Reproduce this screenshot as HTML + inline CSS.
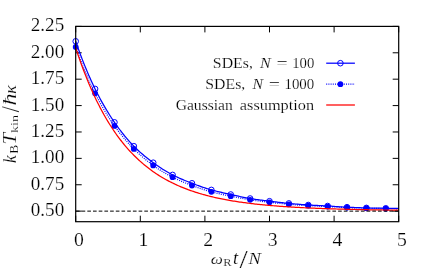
<!DOCTYPE html>
<html><head><meta charset="utf-8"><title>plot</title>
<style>
html,body{margin:0;padding:0;background:#fff;}
svg{display:block;will-change:transform;}
text{font-family:"Liberation Serif",serif;fill:#000;stroke:#fff;stroke-width:0.18px;}
.it{font-style:italic;}
</style></head><body>
<svg width="436" height="274" viewBox="0 0 436 274">
<rect x="0" y="0" width="436" height="274" fill="#fff"/>
<path d="M75.70,221.70v-6 M75.70,26.40v6 M140.30,221.70v-6 M140.30,26.40v6 M204.90,221.70v-6 M204.90,26.40v6 M269.50,221.70v-6 M269.50,26.40v6 M334.10,221.70v-6 M334.10,26.40v6 M398.70,221.70v-6 M398.70,26.40v6 M75.70,211.14h6 M398.70,211.14h-6 M75.70,184.75h6 M398.70,184.75h-6 M75.70,158.36h6 M398.70,158.36h-6 M75.70,131.97h6 M398.70,131.97h-6 M75.70,105.58h6 M398.70,105.58h-6 M75.70,79.18h6 M398.70,79.18h-6 M75.70,52.79h6 M398.70,52.79h-6 M75.70,26.40h6 M398.70,26.40h-6" stroke="#000" stroke-width="1" fill="none"/>
<path d="M75.70,41.30 L76.99,45.03 L78.28,48.68 L79.58,52.24 L80.87,55.71 L82.16,59.10 L83.45,62.41 L84.74,65.64 L86.04,68.80 L87.33,71.88 L88.62,74.89 L89.91,77.82 L91.20,80.69 L92.50,83.49 L93.79,86.23 L95.08,88.90 L96.37,91.51 L97.66,94.05 L98.96,96.54 L100.25,98.97 L101.54,101.34 L102.83,103.65 L104.12,105.92 L105.42,108.13 L106.71,110.29 L108.00,112.41 L109.29,114.47 L110.58,116.49 L111.88,118.47 L113.17,120.41 L114.46,122.30 L115.75,124.15 L117.04,125.97 L118.34,127.76 L119.63,129.50 L120.92,131.21 L122.21,132.88 L123.50,134.51 L124.80,136.10 L126.09,137.66 L127.38,139.18 L128.67,140.66 L129.96,142.10 L131.26,143.50 L132.55,144.87 L133.84,146.20 L135.13,147.49 L136.42,148.75 L137.72,149.98 L139.01,151.17 L140.30,152.34 L141.59,153.47 L142.88,154.59 L144.18,155.67 L145.47,156.74 L146.76,157.78 L148.05,158.80 L149.34,159.80 L150.64,160.78 L151.93,161.75 L153.22,162.70 L154.51,163.63 L155.80,164.56 L157.10,165.46 L158.39,166.35 L159.68,167.22 L160.97,168.07 L162.26,168.91 L163.56,169.73 L164.85,170.53 L166.14,171.31 L167.43,172.07 L168.72,172.80 L170.02,173.52 L171.31,174.22 L172.60,174.90 L173.89,175.56 L175.18,176.19 L176.48,176.81 L177.77,177.42 L179.06,178.00 L180.35,178.58 L181.64,179.14 L182.94,179.69 L184.23,180.23 L185.52,180.76 L186.81,181.28 L188.10,181.79 L189.40,182.30 L190.69,182.80 L191.98,183.30 L193.27,183.79 L194.56,184.28 L195.86,184.77 L197.15,185.24 L198.44,185.71 L199.73,186.18 L201.02,186.63 L202.32,187.08 L203.61,187.51 L204.90,187.94 L206.19,188.35 L207.48,188.76 L208.78,189.15 L210.07,189.53 L211.36,189.90 L212.65,190.26 L213.94,190.60 L215.24,190.94 L216.53,191.26 L217.82,191.58 L219.11,191.88 L220.40,192.19 L221.70,192.48 L222.99,192.78 L224.28,193.07 L225.57,193.36 L226.86,193.64 L228.16,193.93 L229.45,194.21 L230.74,194.50 L232.03,194.79 L233.32,195.08 L234.62,195.37 L235.91,195.65 L237.20,195.94 L238.49,196.22 L239.78,196.50 L241.08,196.78 L242.37,197.05 L243.66,197.31 L244.95,197.56 L246.24,197.81 L247.54,198.05 L248.83,198.28 L250.12,198.50 L251.41,198.71 L252.70,198.92 L254.00,199.12 L255.29,199.31 L256.58,199.50 L257.87,199.68 L259.16,199.86 L260.46,200.03 L261.75,200.21 L263.04,200.38 L264.33,200.54 L265.62,200.71 L266.92,200.87 L268.21,201.04 L269.50,201.20 L270.79,201.36 L272.08,201.52 L273.38,201.68 L274.67,201.84 L275.96,201.99 L277.25,202.15 L278.54,202.30 L279.84,202.45 L281.13,202.59 L282.42,202.74 L283.71,202.88 L285.00,203.01 L286.30,203.14 L287.59,203.27 L288.88,203.40 L290.17,203.52 L291.46,203.65 L292.76,203.77 L294.05,203.88 L295.34,204.00 L296.63,204.11 L297.92,204.23 L299.22,204.33 L300.51,204.44 L301.80,204.54 L303.09,204.64 L304.38,204.74 L305.68,204.83 L306.97,204.92 L308.26,205.00 L309.55,205.08 L310.84,205.15 L312.14,205.23 L313.43,205.29 L314.72,205.36 L316.01,205.42 L317.30,205.48 L318.60,205.54 L319.89,205.61 L321.18,205.67 L322.47,205.73 L323.76,205.79 L325.06,205.86 L326.35,205.93 L327.64,206.00 L328.93,206.08 L330.22,206.16 L331.52,206.24 L332.81,206.33 L334.10,206.41 L335.39,206.50 L336.68,206.59 L337.98,206.68 L339.27,206.76 L340.56,206.84 L341.85,206.92 L343.14,207.00 L344.44,207.07 L345.73,207.14 L347.02,207.20 L348.31,207.26 L349.60,207.32 L350.90,207.37 L352.19,207.42 L353.48,207.48 L354.77,207.53 L356.06,207.57 L357.36,207.62 L358.65,207.67 L359.94,207.71 L361.23,207.75 L362.52,207.79 L363.82,207.83 L365.11,207.87 L366.40,207.90 L367.69,207.93 L368.98,207.97 L370.28,208.00 L371.57,208.03 L372.86,208.05 L374.15,208.08 L375.44,208.11 L376.74,208.13 L378.03,208.16 L379.32,208.18 L380.61,208.21 L381.90,208.23 L383.20,208.25 L384.49,208.28 L385.78,208.30 L387.07,208.32 L388.36,208.34 L389.66,208.37 L390.95,208.39 L392.24,208.41 L393.53,208.43 L394.82,208.44 L396.12,208.46 L397.41,208.48 L398.70,208.50" stroke="#0000ff" stroke-width="1.25" fill="none" stroke-linejoin="round"/>
<circle cx="75.70" cy="41.30" r="2.8" stroke="#0000ff" stroke-width="1.0" fill="none"/><circle cx="95.08" cy="88.90" r="2.8" stroke="#0000ff" stroke-width="1.0" fill="none"/><circle cx="114.46" cy="122.30" r="2.8" stroke="#0000ff" stroke-width="1.0" fill="none"/><circle cx="133.84" cy="146.20" r="2.8" stroke="#0000ff" stroke-width="1.0" fill="none"/><circle cx="153.22" cy="162.70" r="2.8" stroke="#0000ff" stroke-width="1.0" fill="none"/><circle cx="172.60" cy="174.90" r="2.8" stroke="#0000ff" stroke-width="1.0" fill="none"/><circle cx="191.98" cy="183.30" r="2.8" stroke="#0000ff" stroke-width="1.0" fill="none"/><circle cx="211.36" cy="189.90" r="2.8" stroke="#0000ff" stroke-width="1.0" fill="none"/><circle cx="230.74" cy="194.50" r="2.8" stroke="#0000ff" stroke-width="1.0" fill="none"/><circle cx="250.12" cy="198.50" r="2.8" stroke="#0000ff" stroke-width="1.0" fill="none"/><circle cx="269.50" cy="201.20" r="2.8" stroke="#0000ff" stroke-width="1.0" fill="none"/><circle cx="288.88" cy="203.40" r="2.8" stroke="#0000ff" stroke-width="1.0" fill="none"/><circle cx="308.26" cy="205.00" r="2.8" stroke="#0000ff" stroke-width="1.0" fill="none"/><circle cx="327.64" cy="206.00" r="2.8" stroke="#0000ff" stroke-width="1.0" fill="none"/><circle cx="347.02" cy="207.20" r="2.8" stroke="#0000ff" stroke-width="1.0" fill="none"/><circle cx="366.40" cy="207.90" r="2.8" stroke="#0000ff" stroke-width="1.0" fill="none"/><circle cx="385.78" cy="208.30" r="2.8" stroke="#0000ff" stroke-width="1.0" fill="none"/>
<path d="M75.70,46.90 L76.99,50.54 L78.28,54.09 L79.58,57.55 L80.87,60.94 L82.16,64.24 L83.45,67.47 L84.74,70.62 L86.04,73.69 L87.33,76.70 L88.62,79.63 L89.91,82.49 L91.20,85.29 L92.50,88.02 L93.79,90.69 L95.08,93.30 L96.37,95.85 L97.66,98.33 L98.96,100.76 L100.25,103.14 L101.54,105.46 L102.83,107.73 L104.12,109.94 L105.42,112.10 L106.71,114.21 L108.00,116.28 L109.29,118.29 L110.58,120.26 L111.88,122.19 L113.17,124.07 L114.46,125.90 L115.75,127.69 L117.04,129.44 L118.34,131.15 L119.63,132.82 L120.92,134.45 L122.21,136.05 L123.50,137.61 L124.80,139.13 L126.09,140.62 L127.38,142.08 L128.67,143.50 L129.96,144.90 L131.26,146.26 L132.55,147.59 L133.84,148.90 L135.13,150.18 L136.42,151.43 L137.72,152.65 L139.01,153.85 L140.30,155.02 L141.59,156.17 L142.88,157.29 L144.18,158.38 L145.47,159.45 L146.76,160.50 L148.05,161.53 L149.34,162.53 L150.64,163.51 L151.93,164.46 L153.22,165.40 L154.51,166.31 L155.80,167.21 L157.10,168.09 L158.39,168.95 L159.68,169.79 L160.97,170.61 L162.26,171.41 L163.56,172.20 L164.85,172.97 L166.14,173.72 L167.43,174.45 L168.72,175.16 L170.02,175.86 L171.31,176.54 L172.60,177.20 L173.89,177.85 L175.18,178.47 L176.48,179.09 L177.77,179.68 L179.06,180.27 L180.35,180.84 L181.64,181.40 L182.94,181.94 L184.23,182.48 L185.52,183.00 L186.81,183.52 L188.10,184.03 L189.40,184.52 L190.69,185.02 L191.98,185.50 L193.27,185.98 L194.56,186.45 L195.86,186.91 L197.15,187.37 L198.44,187.82 L199.73,188.26 L201.02,188.69 L202.32,189.11 L203.61,189.53 L204.90,189.93 L206.19,190.33 L207.48,190.71 L208.78,191.08 L210.07,191.45 L211.36,191.80 L212.65,192.14 L213.94,192.47 L215.24,192.79 L216.53,193.11 L217.82,193.41 L219.11,193.71 L220.40,194.00 L221.70,194.29 L222.99,194.57 L224.28,194.85 L225.57,195.13 L226.86,195.40 L228.16,195.67 L229.45,195.93 L230.74,196.20 L232.03,196.47 L233.32,196.73 L234.62,196.99 L235.91,197.25 L237.20,197.51 L238.49,197.76 L239.78,198.01 L241.08,198.25 L242.37,198.49 L243.66,198.73 L244.95,198.95 L246.24,199.18 L247.54,199.39 L248.83,199.60 L250.12,199.80 L251.41,199.99 L252.70,200.18 L254.00,200.37 L255.29,200.55 L256.58,200.72 L257.87,200.89 L259.16,201.06 L260.46,201.22 L261.75,201.38 L263.04,201.54 L264.33,201.69 L265.62,201.85 L266.92,202.00 L268.21,202.15 L269.50,202.30 L270.79,202.45 L272.08,202.60 L273.38,202.74 L274.67,202.89 L275.96,203.03 L277.25,203.17 L278.54,203.31 L279.84,203.44 L281.13,203.57 L282.42,203.70 L283.71,203.83 L285.00,203.95 L286.30,204.07 L287.59,204.19 L288.88,204.30 L290.17,204.41 L291.46,204.52 L292.76,204.62 L294.05,204.73 L295.34,204.83 L296.63,204.93 L297.92,205.02 L299.22,205.12 L300.51,205.21 L301.80,205.30 L303.09,205.38 L304.38,205.47 L305.68,205.55 L306.97,205.63 L308.26,205.70 L309.55,205.77 L310.84,205.84 L312.14,205.90 L313.43,205.96 L314.72,206.02 L316.01,206.08 L317.30,206.14 L318.60,206.19 L319.89,206.25 L321.18,206.31 L322.47,206.36 L323.76,206.42 L325.06,206.48 L326.35,206.54 L327.64,206.60 L328.93,206.67 L330.22,206.73 L331.52,206.80 L332.81,206.88 L334.10,206.95 L335.39,207.02 L336.68,207.09 L337.98,207.17 L339.27,207.24 L340.56,207.30 L341.85,207.37 L343.14,207.43 L344.44,207.49 L345.73,207.55 L347.02,207.60 L348.31,207.65 L349.60,207.70 L350.90,207.74 L352.19,207.79 L353.48,207.83 L354.77,207.87 L356.06,207.91 L357.36,207.95 L358.65,207.99 L359.94,208.03 L361.23,208.06 L362.52,208.10 L363.82,208.13 L365.11,208.17 L366.40,208.20 L367.69,208.23 L368.98,208.26 L370.28,208.29 L371.57,208.32 L372.86,208.35 L374.15,208.38 L375.44,208.40 L376.74,208.43 L378.03,208.46 L379.32,208.48 L380.61,208.51 L381.90,208.53 L383.20,208.55 L384.49,208.58 L385.78,208.60 L387.07,208.62 L388.36,208.64 L389.66,208.67 L390.95,208.69 L392.24,208.71 L393.53,208.73 L394.82,208.74 L396.12,208.76 L397.41,208.78 L398.70,208.80" stroke="#0000ff" stroke-width="1.25" stroke-dasharray="1 1.2" fill="none"/>
<circle cx="75.70" cy="46.90" r="2.9" fill="#0000ff"/><circle cx="95.08" cy="93.30" r="2.9" fill="#0000ff"/><circle cx="114.46" cy="125.90" r="2.9" fill="#0000ff"/><circle cx="133.84" cy="148.90" r="2.9" fill="#0000ff"/><circle cx="153.22" cy="165.40" r="2.9" fill="#0000ff"/><circle cx="172.60" cy="177.20" r="2.9" fill="#0000ff"/><circle cx="191.98" cy="185.50" r="2.9" fill="#0000ff"/><circle cx="211.36" cy="191.80" r="2.9" fill="#0000ff"/><circle cx="230.74" cy="196.20" r="2.9" fill="#0000ff"/><circle cx="250.12" cy="199.80" r="2.9" fill="#0000ff"/><circle cx="269.50" cy="202.30" r="2.9" fill="#0000ff"/><circle cx="288.88" cy="204.30" r="2.9" fill="#0000ff"/><circle cx="308.26" cy="205.70" r="2.9" fill="#0000ff"/><circle cx="327.64" cy="206.60" r="2.9" fill="#0000ff"/><circle cx="347.02" cy="207.60" r="2.9" fill="#0000ff"/><circle cx="366.40" cy="208.20" r="2.9" fill="#0000ff"/><circle cx="385.78" cy="208.60" r="2.9" fill="#0000ff"/>
<path d="M75.70,47.83 L76.99,51.75 L78.28,55.57 L79.58,59.29 L80.87,62.93 L82.16,66.47 L83.45,69.93 L84.74,73.30 L86.04,76.59 L87.33,79.80 L88.62,82.92 L89.91,85.98 L91.20,88.95 L92.50,91.86 L93.79,94.69 L95.08,97.45 L96.37,100.15 L97.66,102.78 L98.96,105.34 L100.25,107.84 L101.54,110.28 L102.83,112.67 L104.12,114.99 L105.42,117.25 L106.71,119.46 L108.00,121.62 L109.29,123.73 L110.58,125.78 L111.88,127.78 L113.17,129.73 L114.46,131.64 L115.75,133.50 L117.04,135.31 L118.34,137.09 L119.63,138.81 L120.92,140.50 L122.21,142.14 L123.50,143.75 L124.80,145.31 L126.09,146.84 L127.38,148.33 L128.67,149.79 L129.96,151.21 L131.26,152.59 L132.55,153.94 L133.84,155.26 L135.13,156.55 L136.42,157.81 L137.72,159.03 L139.01,160.23 L140.30,161.40 L141.59,162.54 L142.88,163.65 L144.18,164.74 L145.47,165.80 L146.76,166.83 L148.05,167.84 L149.34,168.83 L150.64,169.79 L151.93,170.73 L153.22,171.64 L154.51,172.54 L155.80,173.41 L157.10,174.27 L158.39,175.10 L159.68,175.91 L160.97,176.70 L162.26,177.48 L163.56,178.23 L164.85,178.97 L166.14,179.69 L167.43,180.40 L168.72,181.08 L170.02,181.75 L171.31,182.41 L172.60,183.05 L173.89,183.67 L175.18,184.28 L176.48,184.88 L177.77,185.46 L179.06,186.03 L180.35,186.58 L181.64,187.12 L182.94,187.65 L184.23,188.17 L185.52,188.67 L186.81,189.16 L188.10,189.65 L189.40,190.11 L190.69,190.57 L191.98,191.02 L193.27,191.46 L194.56,191.89 L195.86,192.31 L197.15,192.71 L198.44,193.11 L199.73,193.50 L201.02,193.88 L202.32,194.25 L203.61,194.62 L204.90,194.97 L206.19,195.32 L207.48,195.66 L208.78,195.99 L210.07,196.31 L211.36,196.63 L212.65,196.94 L213.94,197.24 L215.24,197.53 L216.53,197.82 L217.82,198.10 L219.11,198.38 L220.40,198.64 L221.70,198.91 L222.99,199.16 L224.28,199.42 L225.57,199.66 L226.86,199.90 L228.16,200.13 L229.45,200.36 L230.74,200.59 L232.03,200.81 L233.32,201.02 L234.62,201.23 L235.91,201.43 L237.20,201.63 L238.49,201.83 L239.78,202.02 L241.08,202.21 L242.37,202.39 L243.66,202.57 L244.95,202.74 L246.24,202.92 L247.54,203.08 L248.83,203.25 L250.12,203.41 L251.41,203.56 L252.70,203.71 L254.00,203.86 L255.29,204.01 L256.58,204.15 L257.87,204.29 L259.16,204.43 L260.46,204.56 L261.75,204.70 L263.04,204.82 L264.33,204.95 L265.62,205.07 L266.92,205.19 L268.21,205.31 L269.50,205.42 L270.79,205.54 L272.08,205.65 L273.38,205.75 L274.67,205.86 L275.96,205.96 L277.25,206.06 L278.54,206.16 L279.84,206.26 L281.13,206.35 L282.42,206.45 L283.71,206.54 L285.00,206.62 L286.30,206.71 L287.59,206.80 L288.88,206.88 L290.17,206.96 L291.46,207.04 L292.76,207.12 L294.05,207.19 L295.34,207.27 L296.63,207.34 L297.92,207.41 L299.22,207.49 L300.51,207.55 L301.80,207.62 L303.09,207.69 L304.38,207.75 L305.68,207.82 L306.97,207.88 L308.26,207.94 L309.55,208.00 L310.84,208.06 L312.14,208.11 L313.43,208.17 L314.72,208.22 L316.01,208.28 L317.30,208.33 L318.60,208.38 L319.89,208.43 L321.18,208.48 L322.47,208.53 L323.76,208.58 L325.06,208.62 L326.35,208.67 L327.64,208.71 L328.93,208.76 L330.22,208.80 L331.52,208.84 L332.81,208.88 L334.10,208.92 L335.39,208.96 L336.68,209.00 L337.98,209.04 L339.27,209.08 L340.56,209.11 L341.85,209.15 L343.14,209.19 L344.44,209.22 L345.73,209.25 L347.02,209.29 L348.31,209.32 L349.60,209.35 L350.90,209.38 L352.19,209.41 L353.48,209.44 L354.77,209.47 L356.06,209.50 L357.36,209.53 L358.65,209.56 L359.94,209.59 L361.23,209.61 L362.52,209.64 L363.82,209.66 L365.11,209.69 L366.40,209.71 L367.69,209.74 L368.98,209.76 L370.28,209.79 L371.57,209.81 L372.86,209.83 L374.15,209.85 L375.44,209.88 L376.74,209.90 L378.03,209.92 L379.32,209.94 L380.61,209.96 L381.90,209.98 L383.20,210.00 L384.49,210.02 L385.78,210.04 L387.07,210.05 L388.36,210.07 L389.66,210.09 L390.95,210.11 L392.24,210.12 L393.53,210.14 L394.82,210.16 L396.12,210.17 L397.41,210.19 L398.70,210.21" stroke="#ff0000" stroke-width="1.25" fill="none" stroke-linejoin="round"/>
<path d="M75.90,211.14H398.70" stroke="#000" stroke-width="1" stroke-dasharray="3.65 2.05" fill="none"/>
<rect x="75.7" y="26.4" width="323.00" height="195.30" stroke="#000" stroke-width="1.2" fill="none"/>
<text x="64.2" y="216.14" font-size="19.8" text-anchor="end" textLength="33.4" lengthAdjust="spacingAndGlyphs">0.50</text>
<text x="64.2" y="189.75" font-size="19.8" text-anchor="end" textLength="33.4" lengthAdjust="spacingAndGlyphs">0.75</text>
<text x="64.2" y="163.36" font-size="19.8" text-anchor="end" textLength="33.4" lengthAdjust="spacingAndGlyphs">1.00</text>
<text x="64.2" y="136.97" font-size="19.8" text-anchor="end" textLength="33.4" lengthAdjust="spacingAndGlyphs">1.25</text>
<text x="64.2" y="110.58" font-size="19.8" text-anchor="end" textLength="33.4" lengthAdjust="spacingAndGlyphs">1.50</text>
<text x="64.2" y="84.18" font-size="19.8" text-anchor="end" textLength="33.4" lengthAdjust="spacingAndGlyphs">1.75</text>
<text x="64.2" y="57.79" font-size="19.8" text-anchor="end" textLength="33.4" lengthAdjust="spacingAndGlyphs">2.00</text>
<text x="64.2" y="31.40" font-size="19.8" text-anchor="end" textLength="33.4" lengthAdjust="spacingAndGlyphs">2.25</text>
<text transform="translate(78.90,245.7) scale(1.06,1)" font-size="18.6" text-anchor="middle">0</text>
<text transform="translate(143.50,245.7) scale(1.06,1)" font-size="18.6" text-anchor="middle">1</text>
<text transform="translate(208.10,245.7) scale(1.06,1)" font-size="18.6" text-anchor="middle">2</text>
<text transform="translate(272.70,245.7) scale(1.06,1)" font-size="18.6" text-anchor="middle">3</text>
<text transform="translate(337.30,245.7) scale(1.06,1)" font-size="18.6" text-anchor="middle">4</text>
<text transform="translate(401.90,245.7) scale(1.06,1)" font-size="18.6" text-anchor="middle">5</text>
<path d="M326.2,63.2H354.9" stroke="#0000ff" stroke-width="1.25"/><circle cx="340.4" cy="63.2" r="2.8" stroke="#0000ff" stroke-width="1.0" fill="none"/>
<path d="M326.2,84.2H354.9" stroke="#0000ff" stroke-width="1.25" stroke-dasharray="1 1.2"/><circle cx="340.4" cy="84.2" r="2.9" fill="#0000ff"/>
<path d="M326.2,105.0H354.9" stroke="#ff0000" stroke-width="1.25"/>
<text transform="translate(212.84,68.10) scale(1.100,1)" font-size="14.40" fill="#000">SDEs,</text>
<text transform="translate(260.02,68.10) scale(1.118,1)" font-size="14.40" font-style="italic" fill="#000">N</text>
<text transform="translate(276.50,68.10) scale(1.388,1)" font-size="14.40" fill="#000">=</text>
<text transform="translate(292.21,68.10) scale(1.021,1)" font-size="14.40" fill="#000">100</text>
<text transform="translate(205.34,88.80) scale(1.097,1)" font-size="14.40" fill="#000">SDEs,</text>
<text transform="translate(252.42,88.80) scale(1.098,1)" font-size="14.40" font-style="italic" fill="#000">N</text>
<text transform="translate(268.80,88.80) scale(1.388,1)" font-size="14.40" fill="#000">=</text>
<text transform="translate(284.49,88.80) scale(1.034,1)" font-size="14.40" fill="#000">1000</text>
<text transform="translate(175.66,109.60) scale(1.083,1)" font-size="14.40" fill="#000">Gaussian</text>
<text transform="translate(239.83,109.60) scale(1.134,1)" font-size="14.40" fill="#000">assumption</text>
<text transform="translate(210.83,264.30) scale(1.184,1)" font-size="14.51" font-style="italic" fill="#000">ω</text>
<text transform="translate(223.34,266.00) scale(1.290,1)" font-size="9.62" fill="#000">R</text>
<text transform="translate(232.89,264.30) scale(1.012,1)" font-size="18.30" font-style="italic" fill="#000">t</text>
<text transform="translate(239.50,268.40) scale(1.144,1)" font-size="25.79" fill="#000">/</text>
<text transform="translate(248.44,264.30) scale(1.068,1)" font-size="17.41" font-style="italic" fill="#000">N</text>
<g transform="translate(16.1,163.3) rotate(-90)">
<text transform="translate(0.30,0.00) scale(0.961,1)" font-size="18.16" font-style="italic" fill="#000">k</text>
<text transform="translate(9.61,1.70) scale(1.125,1)" font-size="11.91" fill="#000">B</text>
<text transform="translate(18.73,0.00) scale(1.132,1)" font-size="18.48" font-style="italic" fill="#000">T</text>
<text transform="translate(30.33,1.70) scale(1.259,1)" font-size="11.24" fill="#000">kin</text>
<text transform="translate(51.10,3.30) scale(0.819,1)" font-size="25.94" fill="#000">/</text>
<text transform="translate(57.73,0.00) scale(1.319,1)" font-size="18.30" font-style="italic" fill="#000">ħ</text>
<text transform="translate(69.21,0.00) scale(1.101,1)" font-size="16.99" font-style="italic" fill="#000">κ</text>
</g>
</svg>
</body></html>
